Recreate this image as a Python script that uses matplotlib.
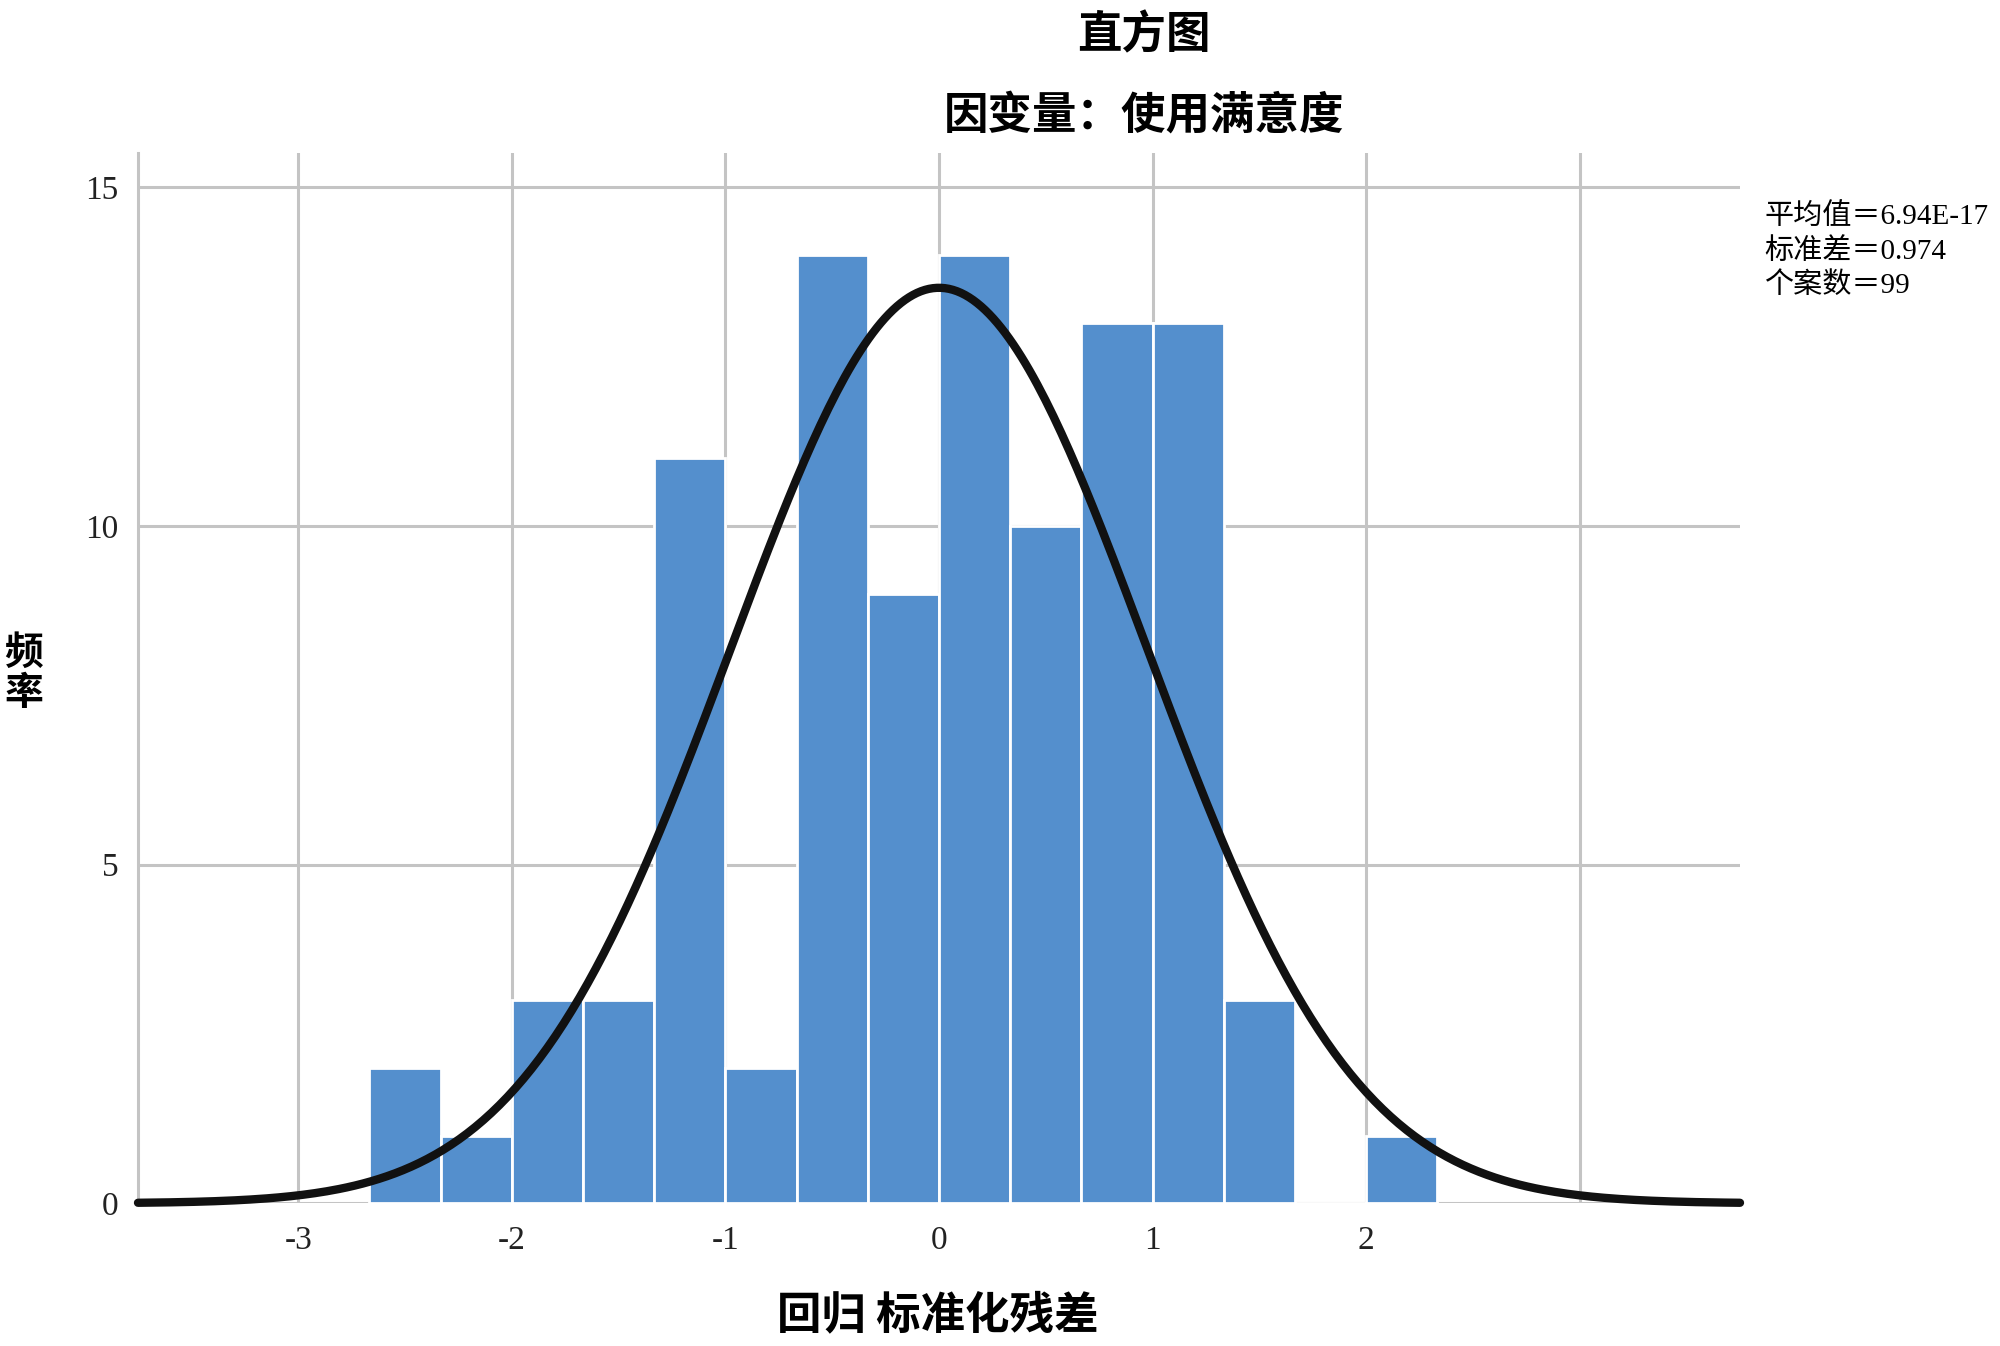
import matplotlib
matplotlib.use("Agg")
import matplotlib.pyplot as plt
import numpy as np

plt.rcParams['font.family'] = ['Liberation Serif', 'Noto Sans CJK SC', 'DejaVu Sans']
plt.rcParams['axes.unicode_minus'] = False

# histogram of standardized residuals (bin edges)
bin_edges = [-2.667, -2.333, -2.0, -1.667, -1.333, -1.0, -0.667, -0.333,
             0.0, 0.333, 0.667, 1.0, 1.333, 1.667, 2.0, 2.333]
counts = [2, 1, 3, 3, 11, 2, 14, 9, 14, 10, 13, 13, 3, 0, 1]

mean_val = 6.94e-17
std_val = 0.974
n_cases = 99

xticks = [-3, -2, -1, 0, 1, 2, 3]
xticklabels = ['-3', '-2', '-1', '0', '1', '2', '']
yticks = [0, 5, 10, 15]

edges = np.array(bin_edges)
widths = np.diff(edges)

fig = plt.figure(figsize=(20, 13.46), dpi=100)
ax = fig.add_axes([0.069, 0.106, 0.801, 0.780])

grid_c = '#c4c4c4'
ax.bar(edges[:-1], counts, width=widths, align='edge', color='#548fcd',
       edgecolor='white', linewidth=2, zorder=2)

# normal curve scaled to the histogram
xx = np.linspace(-3.75, 3.75, 400)
bw = widths.mean()
yy = n_cases * bw * np.exp(-0.5 * ((xx - mean_val) / std_val) ** 2) / (std_val * np.sqrt(2 * np.pi))
ax.plot(xx, yy, color='#111111', linewidth=6, solid_capstyle='round', zorder=3, clip_on=False)

ax.set_xlim(-3.75, 3.75)
ax.set_ylim(0, 15.5)
ax.set_xticks(xticks)
ax.set_xticklabels(xticklabels)
ax.set_yticks(yticks)
ax.grid(True, color=grid_c, linewidth=2.2, zorder=0)
ax.set_axisbelow(True)
for s in ['top', 'right', 'bottom']:
    ax.spines[s].set_visible(False)
ax.spines['left'].set_color(grid_c)
ax.spines['left'].set_linewidth(2.2)
ax.tick_params(length=0, labelsize=24, colors='#222222', pad=14)
ax.tick_params(axis='x', pad=16)

fig.text(0.572, 0.974, '直方图', ha='center', va='center', fontsize=32,
         fontweight='bold', family=['Noto Sans CJK SC'])
fig.text(0.572, 0.914, '因变量：使用满意度', ha='center', va='center', fontsize=32,
         fontweight='bold', family=['Noto Sans CJK SC'])
fig.text(0.469, 0.023, '回归 标准化残差', ha='center', va='center', fontsize=32,
         fontweight='bold', family=['Noto Sans CJK SC'])
fig.text(0.012, 0.5, '频\n率', ha='center', va='center', fontsize=28,
         fontweight='bold', family=['Noto Sans CJK SC'], linespacing=1.05)

stats = ['平均值＝6.94E-17', '标准差＝0.974', '个案数＝99']
for i, s in enumerate(stats):
    fig.text(0.882, 0.839 - i * 0.0255, s, ha='left', va='center', fontsize=21,
             family=['Liberation Serif', 'Noto Sans CJK SC'])

fig.savefig('out.png', dpi=100)
